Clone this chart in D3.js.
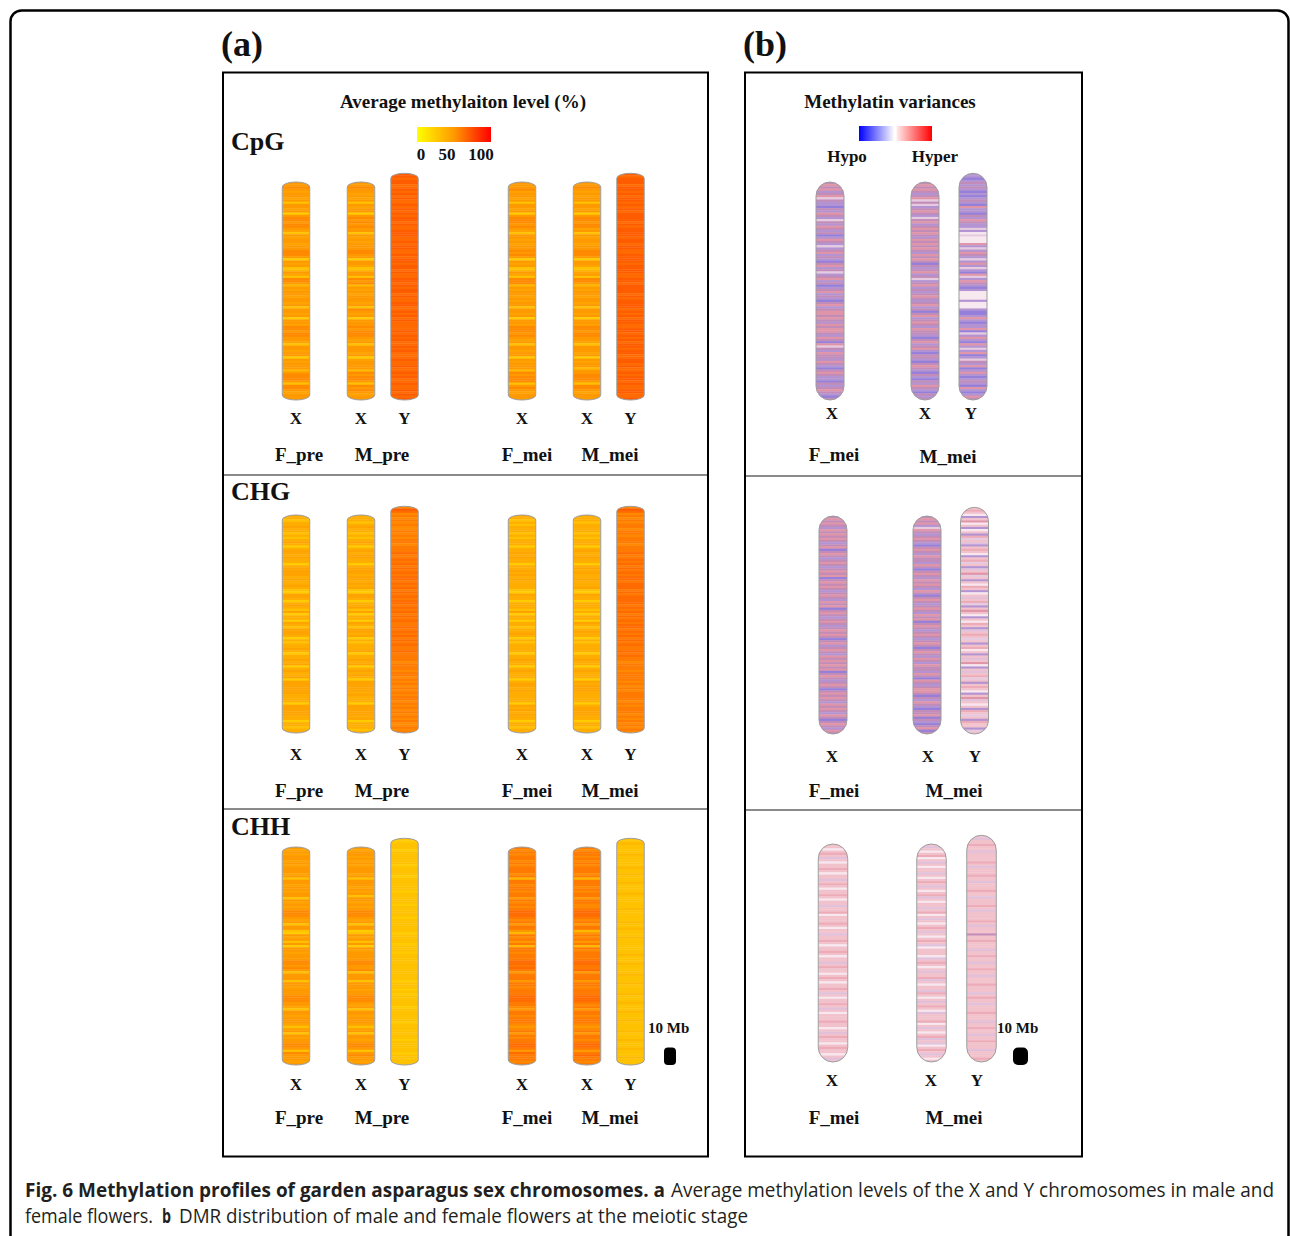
<!DOCTYPE html>
<html>
<head>
<meta charset="utf-8">
<script src="https://cdn.jsdelivr.net/npm/d3@7"></script>
<style>
  body { margin: 0; background: #fff; }
  svg { display: block; }
</style>
</head>
<body>
<svg id="fig" width="1290" height="1236"></svg>
<script>
// ---------------------------------------------------------------
// Data
// ---------------------------------------------------------------
// Each profile string holds one character per 1.25 Mb bin, read from
// the top of the chromosome to the bottom.
// Panel (a): digit d = average methylation level of 25 + 5*d percent.
// Panel (b): character = DMR class (see varianceClasses).
const binSize = 1.25;            // Mb per bin
const scaleBarMb = 10;           // length of the scale bar
const contexts = ["CpG", "CHG", "CHH"];
const levelTicks = [0, 50, 100];
const levelStops = ["#ffff00", "#ff9900", "#ff0000"];
const levelBase = 25, levelStep = 5;

const cpgLevels = [
  { sample: "F_pre", chrom: "X", bins: ["5565455451","5545056656","6541545545","5666505451","2541665254","5545545155","4505546656","6554155455","0545552566","6516654555"].join("") },
  { sample: "M_pre", chrom: "X", bins: ["5565545451","5455056565","6551545455","5665505541","2551656254","5455545165","4505556566","6545155545","0455552656","6516565455"].join("") },
  { sample: "M_pre", chrom: "Y", bins: ["9989988989","8988989898","9989889998","8989988989","9899898899","8989989889","9889898988","8898989889","8988898898","8989889889","8989"].join("") },
  { sample: "F_mei", chrom: "X", bins: ["5556455451","5545056665","6541554545","5656505451","2541666254","5545455155","4505546665","6545155455","0545552656","6615654555"].join("") },
  { sample: "M_mei", chrom: "X", bins: ["5565454551","5545056656","6451545545","5666505541","2451665254","5545545155","4505546656","6554155545","0545525566","6516654555"].join("") },
  { sample: "M_mei", chrom: "Y", bins: ["9899989989","8998989899","9989899998","9989988999","9899998899","8999989899","9989898998","8998989899","8998899898","8989989889","9889"].join("") }
];

const chgLevels = [
  { sample: "F_pre", chrom: "X", bins: ["3313343313","1343034434","3303444434","3343104430","3431403304","3144430313","3430334340","3433404444","4433330444","4433033133"].join("") },
  { sample: "M_pre", chrom: "X", bins: ["3331343313","1343034344","3303444344","3434104430","3341403304","3144340313","3340334340","3434304444","4343330444","4434033313"].join("") },
  { sample: "M_pre", chrom: "Y", bins: ["6986767676","6767677677","7877878787","8788787878","7878878787","8787787878","7878778777","7677767767","6767676776","7676767676","6767"].join("") },
  { sample: "F_mei", chrom: "X", bins: ["3313133313","1333033434","3303343434","3333104330","3331403303","3133430313","3330334330","3433303443","4333330434","3433033133"].join("") },
  { sample: "M_mei", chrom: "X", bins: ["3331333313","1333034334","3303434334","3334104330","3331303304","3134330313","3330334330","3433304344","4333330344","4433033133"].join("") },
  { sample: "M_mei", chrom: "Y", bins: ["6986767677","6776777677","7877878787","8788788878","7888878787","8787887878","7878778787","7677767777","6767677776","7677767676","7676"].join("") }
];

const chhLevels = [
  { sample: "F_pre", chrom: "X", bins: ["5454554545","5545155455","4551545456","6654515510","5451505545","5566565155","5155455566","6554155455","5414515455","6651655545"].join("") },
  { sample: "M_pre", chrom: "X", bins: ["5455454545","5545155545","4515545456","6654515501","5451505455","5566556155","5155545566","6545155455","5414515545","6651565545"].join("") },
  { sample: "M_pre", chrom: "Y", bins: ["1011101111","1101111011","1111011111","0111110111","1110111101","1101111111","1111101110","1011111011","1111011111","1101111101","1111"].join("") },
  { sample: "F_mei", chrom: "X", bins: ["7676776767","7767277677","6775767678","8876757752","7675727767","7788787577","7577677788","8776577677","7656757677","8875877767"].join("") },
  { sample: "M_mei", chrom: "X", bins: ["7677676767","7767277767","6775776678","8876757725","7675727677","7788778577","7577677788","8767577677","7656757767","8875787767"].join("") },
  { sample: "M_mei", chrom: "Y", bins: ["1121111211","1112112111","2111121111","1121111121","1211121111","1112111211","1121112111","1211121112","1112111121","1121112111","2111"].join("") }
];

// DMR classes: share of hyper- and hypo-methylated signal in a bin
const varianceClasses = [
  { code: "e", hyper: 0.06, hypo: 0.03 },
  { code: "w", hyper: 0.12, hypo: 0.10 },
  { code: "q", hyper: 0.20, hypo: 0.05 },
  { code: "k", hyper: 0.28, hypo: 0.07 },
  { code: "v", hyper: 0.14, hypo: 0.12 },
  { code: "p", hyper: 0.34, hypo: 0.12 },
  { code: "r", hyper: 0.42, hypo: 0.15 },
  { code: "m", hyper: 0.28, hypo: 0.24 },
  { code: "l", hyper: 0.18, hypo: 0.30 },
  { code: "b", hyper: 0.14, hypo: 0.42 }
];

const cpgVariance = [
  { sample: "F_mei", chrom: "X", bins: ["mpmplmpwml","lbmlpmlwml","pmlmblpmlw","lmplmlbmpl","mwlmplmblm","plmlbmplmp","pmpmlpmppm","lpmbpwmlpm","mlpmlbmpml","lbmlmpmlbm"].join("") },
  { sample: "M_mei", chrom: "X", bins: ["mpmpmlmpwm","wlmpmlwmpl","mpmpmlpmpm","pmlpmpmbml","mplmwlmplm","lmpmlmplmb","mplmpmlpmm","lbmplmplbm","mlbmpmlbml","bmlpmlbmlm"].join("") },
  { sample: "M_mei", chrom: "Y", bins: ["llblmlmlbl","blmlbpllbm","lpmllwlewe","eeplwlpmlw","lplwlbpwlp","mlbleeeele","eelbblplbl","lpbwlplbpl","wlpblwmlpb","lplblmlbpl","blpm"].join("") }
];

const chgVariance = [
  { sample: "F_mei", chrom: "X", bins: ["mpmpmlpmpm","pmlmpbmpml","mpmlmpmpbm","pmpmlmpmlp","mpbmpmlmpm","lmpmpmbmpl","mpmlpmpmpm","pbmpmlmpmb","mpmpmlpmpm","lpmbmpmlpm"].join("") },
  { sample: "M_mei", chrom: "X", bins: ["mpmplwpmlm","pmlbmpmlpm","mlpmbmpmlp","mpmlpmbmpm","lmpmlpmpbm","pmlmpmlmpm","bmpmlpmlpm","mlpmbpmlmp","pmbmlpmlbm","mpbmlbmpbm"].join("") },
  { sample: "M_mei", chrom: "Y", bins: ["qkqelqpeql","eqlkwqvlqk","qelqkwqlvq","pwqlqekqle","qvqkwlqpqe","lqekqlvqkq","wqlqkeqlqv","qpelqvqkwq","lqkqelqpvq","eqlkqwqlkq","qlwq"].join("") }
];

const chhVariance = [
  { sample: "F_mei", chrom: "X", bins: ["qqeqkqvqeq","qkqeqqvqkq","eqqkqeqqvq","qkeqqqkqeq","qvqqkqeqqk","qeqqvqkqqe","qkqeqqkqvq","eqqkqvqeqq","qkqqeqvqkq","qeqkqqeqvq"].join("") },
  { sample: "M_mei", chrom: "X", bins: ["qvqeqkeqvq","eqqvqeqkqv","qeqkvqeqqv","qkeqvqeqkq","vqeqkqveqq","qevqkqeqvq","qkvqeqqvkq","eqvqkqevqq","qkeqvqeqkv","qveqkqvqeq"].join("") },
  { sample: "M_mei", chrom: "Y", bins: ["qvqqkqqvqq","qqkqvqqqkq","qvqqqkqqvq","qqkqvqqqqk","qvqqqmqqkq","qqvqqkqqvq","qkqqvqqqkq","qqvqkqqvqq","qkqqqvqqkq","qvqqkqqqvq","qqkq"].join("") }
];

// ---------------------------------------------------------------
// Scales
// ---------------------------------------------------------------
const lenScale = d3.scaleLinear().domain([0, 125]).range([0, 218]);   // Mb -> px
const levelColor = d3.scaleLinear().domain(levelTicks).range(levelStops).interpolate(d3.interpolateRgb);
const varianceColor = d3.scaleLinear().domain([-1, 0, 1]).range(["#0000ff", "#ffffff", "#ff0000"]);
const classByCode = new Map(varianceClasses.map(c => [c.code, c]));

// A DMR bin mixes the hyper (red) and hypo (blue) ends of the scale multiplicatively
function dmrFill(code) {
  const c = classByCode.get(code);
  const r = d3.rgb(varianceColor(c.hyper));
  const b = d3.rgb(varianceColor(-c.hypo));
  return d3.rgb(r.r * b.r / 255, r.g * b.g / 255, r.b * b.b / 255).formatHex();
}
const levelFill = ch => levelColor(levelBase + levelStep * (+ch));

// ---------------------------------------------------------------
// Drawing
// ---------------------------------------------------------------
const svg = d3.select("#fig");
const defs = svg.append("defs");
const serif = "'Liberation Serif', 'Times New Roman', Times, serif";
let clipCount = 0;

function drawChrom(parent, cx, bottom, bins, fillOf, w, ry) {
  const L = bins.length * binSize;
  const y = d3.scaleLinear().domain([0, L]).range([bottom - lenScale(L), bottom]);
  const id = "chromClip" + (clipCount++);
  defs.append("clipPath").attr("id", id)
    .append("rect")
    .attr("x", cx - w / 2).attr("y", y(0))
    .attr("width", w).attr("height", y(L) - y(0))
    .attr("rx", w / 2).attr("ry", ry);
  const g = parent.append("g");
  g.append("g").attr("clip-path", `url(#${id})`)
    .selectAll("rect").data(Array.from(bins)).join("rect")
    .attr("x", cx - w / 2)
    .attr("y", (d, i) => y(i * binSize))
    .attr("width", w)
    .attr("height", (d, i) => y((i + 1) * binSize) - y(i * binSize) + 0.35)
    .attr("fill", d => fillOf(d));
  g.append("rect")
    .attr("x", cx - w / 2).attr("y", y(0))
    .attr("width", w).attr("height", y(L) - y(0))
    .attr("rx", w / 2).attr("ry", ry)
    .attr("fill", "none").attr("stroke", "#9c9c9c").attr("stroke-width", 1);
}

function label(parent, x, y, text, size, anchor) {
  return parent.append("text")
    .attr("x", x).attr("y", y)
    .attr("text-anchor", anchor || "middle")
    .attr("font-family", serif).attr("font-weight", "bold")
    .attr("font-size", size).attr("fill", "#111")
    .text(text);
}

// Outer frame
svg.append("rect").attr("x", 10.5).attr("y", 10.5).attr("width", 1278).attr("height", 1400)
  .attr("rx", 11).attr("fill", "none").attr("stroke", "#000").attr("stroke-width", 2.5);

// Panel letters
label(svg, 242, 56, "(a)", 36);
label(svg, 765, 56, "(b)", 36);

// ---------------- Panel (a): average methylation level ----------------
const pa = svg.append("g");
pa.append("rect").attr("x", 223).attr("y", 72.5).attr("width", 485).attr("height", 1084)
  .attr("fill", "none").attr("stroke", "#000").attr("stroke-width", 2);
[475, 809].forEach(yy => pa.append("line").attr("x1", 224).attr("x2", 707).attr("y1", yy).attr("y2", yy)
  .attr("stroke", "#8a8a8a").attr("stroke-width", 2));

label(pa, 463, 108, "Average methylaiton level (%)", 19);

// gradient legend
const gradA = defs.append("linearGradient").attr("id", "levelGrad");
levelTicks.forEach(t => gradA.append("stop").attr("offset", t + "%").attr("stop-color", levelColor(t)));
const legendA = d3.scaleLinear().domain([0, 100]).range([417, 491]);
pa.append("rect").attr("x", legendA(0)).attr("y", 127).attr("width", legendA(100) - legendA(0)).attr("height", 15)
  .attr("fill", "url(#levelGrad)");
const tickX = { 0: 421, 50: 447, 100: 481 };
levelTicks.forEach(t => label(pa, tickX[t], 160, String(t), 17));

const aChromX = { F_pre_X: 296, M_pre_X: 361, M_pre_Y: 404.5, F_mei_X: 522, M_mei_X: 587, M_mei_Y: 630.5 };
const aGroupX = { F_pre: 299, M_pre: 382, F_mei: 527, M_mei: 610 };
const aRows = [
  { data: cpgLevels, ctxY: 150, bottom: 400, chromLabelY: 424, groupY: 461 },
  { data: chgLevels, ctxY: 500, bottom: 733, chromLabelY: 760, groupY: 797 },
  { data: chhLevels, ctxY: 835, bottom: 1065, chromLabelY: 1090, groupY: 1124 }
];
aRows.forEach((row, ri) => {
  label(pa, 231, row.ctxY, contexts[ri], 26, "start");
  row.data.forEach(d => {
    const cx = aChromX[d.sample + "_" + d.chrom];
    drawChrom(pa, cx, row.bottom, d.bins, levelFill, 27.5, 5);
    label(pa, cx, row.chromLabelY, d.chrom, 17);
  });
  Object.keys(aGroupX).forEach(s => label(pa, aGroupX[s], row.groupY, s, 19));
});

// scale bar
pa.append("rect").attr("x", 664).attr("y", 1065 - lenScale(scaleBarMb)).attr("width", 12)
  .attr("height", lenScale(scaleBarMb)).attr("rx", 4).attr("fill", "#000");
label(pa, 648, 1033, scaleBarMb + " Mb", 15, "start");

// ---------------- Panel (b): methylation variances ----------------
const pb = svg.append("g");
pb.append("rect").attr("x", 745).attr("y", 72.5).attr("width", 337).attr("height", 1084)
  .attr("fill", "none").attr("stroke", "#000").attr("stroke-width", 2);
[476, 810].forEach(yy => pb.append("line").attr("x1", 746).attr("x2", 1081).attr("y1", yy).attr("y2", yy)
  .attr("stroke", "#8a8a8a").attr("stroke-width", 2));

label(pb, 890, 108, "Methylatin variances", 19);

const gradHypo = defs.append("linearGradient").attr("id", "hypoGrad");
gradHypo.append("stop").attr("offset", "0%").attr("stop-color", varianceColor(-1));
gradHypo.append("stop").attr("offset", "100%").attr("stop-color", varianceColor(0));
const gradHyper = defs.append("linearGradient").attr("id", "hyperGrad");
gradHyper.append("stop").attr("offset", "0%").attr("stop-color", varianceColor(0.08));
gradHyper.append("stop").attr("offset", "100%").attr("stop-color", varianceColor(1));
const legendB = d3.scaleLinear().domain([-1, 1]).range([859, 932]);
pb.append("rect").attr("x", legendB(-1)).attr("y", 126).attr("width", legendB(-0.03) - legendB(-1)).attr("height", 15)
  .attr("fill", "url(#hypoGrad)");
pb.append("rect").attr("x", legendB(0.03)).attr("y", 126).attr("width", legendB(1) - legendB(0.03)).attr("height", 15)
  .attr("fill", "url(#hyperGrad)");
label(pb, 847, 162, "Hypo", 17);
label(pb, 935, 162, "Hyper", 17);

const bRows = [
  { data: cpgVariance, bottom: 400, w: 28, x: { F_mei_X: 830, M_mei_X: 925, M_mei_Y: 973 },
    lx: { F_mei_X: 832, M_mei_X: 925, M_mei_Y: 971 }, chromLabelY: 419, groupY: { F_mei: 461, M_mei: 463 }, groupX: { F_mei: 834, M_mei: 948 } },
  { data: chgVariance, bottom: 734, w: 28, x: { F_mei_X: 833, M_mei_X: 927, M_mei_Y: 974.5 },
    lx: { F_mei_X: 832, M_mei_X: 928, M_mei_Y: 975 }, chromLabelY: 762, groupY: { F_mei: 797, M_mei: 797 }, groupX: { F_mei: 834, M_mei: 954 } },
  { data: chhVariance, bottom: 1062, w: 29.5, x: { F_mei_X: 833, M_mei_X: 931.5, M_mei_Y: 981.5 },
    lx: { F_mei_X: 832, M_mei_X: 931, M_mei_Y: 977 }, chromLabelY: 1086, groupY: { F_mei: 1124, M_mei: 1124 }, groupX: { F_mei: 834, M_mei: 954 } }
];
bRows.forEach(row => {
  row.data.forEach(d => {
    const key = d.sample + "_" + d.chrom;
    drawChrom(pb, row.x[key], row.bottom, d.bins, dmrFill, row.w, row.w / 2);
    label(pb, row.lx[key], row.chromLabelY, d.chrom, 17);
  });
  Object.keys(row.groupX).forEach(s => label(pb, row.groupX[s], row.groupY[s], s, 19));
});

pb.append("rect").attr("x", 1013).attr("y", 1065 - lenScale(scaleBarMb)).attr("width", 15)
  .attr("height", lenScale(scaleBarMb)).attr("rx", 5).attr("fill", "#000");
label(pb, 997, 1033, scaleBarMb + " Mb", 15, "start");

// ---------------- Caption ----------------
// Each run is its own text element, squeezed to the condensed width of the caption face.
const capFont = "'Open Sans', 'Noto Sans', sans-serif";
const captionRuns = [
  { x: 25,  y: 1197, len: 640, bold: true,  text: "Fig. 6 Methylation profiles of garden asparagus sex chromosomes. a" },
  { x: 671, y: 1197, len: 603, bold: false, text: "Average methylation levels of the X and Y chromosomes in male and" },
  { x: 25,  y: 1223, len: 128, bold: false, text: "female flowers." },
  { x: 162, y: 1223, len: 9,   bold: true,  text: "b" },
  { x: 179, y: 1223, len: 569, bold: false, text: "DMR distribution of male and female flowers at the meiotic stage" }
];
svg.append("g").selectAll("text").data(captionRuns).join("text")
  .attr("x", d => d.x).attr("y", d => d.y)
  .attr("font-family", capFont).attr("font-size", 19.5)
  .attr("font-weight", d => d.bold ? "bold" : "normal")
  .attr("fill", "#231f20")
  .attr("textLength", d => d.len).attr("lengthAdjust", "spacingAndGlyphs")
  .text(d => d.text);
</script>
</body>
</html>
